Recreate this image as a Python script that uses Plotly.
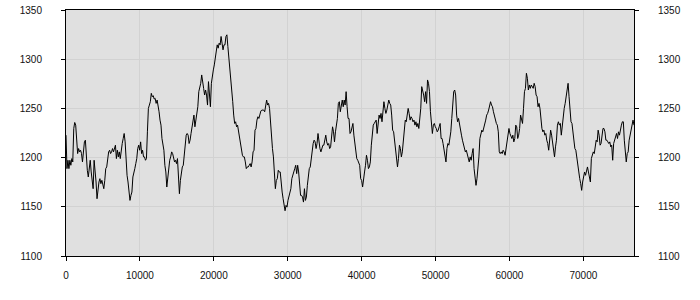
import plotly.graph_objects as go

# Series values (evenly spaced samples from x=0 to x_end)
x_end = 76850
values = [
    # 0 – ~12700
    1222.8, 1188.8, 1197.3, 1188.8, 1197.3, 1192.2, 1199, 1195.6, 1229.6, 1235.7,
    1233, 1210.9, 1204.1, 1209.2, 1205.8, 1207.5, 1204.1, 1195.6, 1209.2, 1216,
    1217.7, 1199, 1187.1, 1180.3, 1188.8, 1197.3, 1185.4, 1178.6, 1168.4, 1197.3,
    1188.8, 1175.2, 1158.2, 1168.4, 1175.2, 1178.6, 1173.5, 1176.9, 1173.5, 1168.4,
    1176.9, 1188.8, 1190.5, 1202.4, 1205.8, 1207.5, 1204.1, 1205.8, 1209.2, 1205.8,
    1210.9, 1212.6, 1199, 1207.5, 1200.7, 1205.8, 1199, 1209.2, 1214.3, 1219.4,
    1224.5, 1216, 1188.8, 1182, 1175.2, 1168.4, 1156.5, 1161.6, 1165, 1180.3,
    1183.7, 1188.8, 1193.9, 1199, 1209.2, 1212.6, 1207.5, 1216, 1204.1, 1207.5,
    1200.7, 1200.7, 1197.3, 1199, 1226.2, 1250, 1253.4, 1256.8, 1265.3, 1261.9,
    1262.9, 1259.5, 1260.2, 1255.1, 1258.5, 1253.4, 1246.6, 1238.1,
    # ~12700 – ~25400
    1233, 1219.4, 1210.9, 1207.5, 1192.2, 1185.4, 1170.1, 1178.6, 1192.2, 1197.3,
    1200.7, 1205.8, 1204.1, 1199, 1195.6, 1197.3, 1193.9, 1199, 1185.4, 1163.3,
    1176.9, 1185.4, 1190.5, 1192.2, 1202.4, 1212.6, 1222.8, 1224.5, 1222.8, 1214.3,
    1217.7, 1224.5, 1229.6, 1236.4, 1243.2, 1231.3, 1239.8, 1243.2, 1251.7, 1267,
    1270.4, 1275.5, 1284, 1278.9, 1270.4, 1263.6, 1268.7, 1263.6, 1253.4, 1277.2,
    1261.9, 1251.7, 1275.5, 1284, 1289.1, 1294.2, 1301, 1307.8, 1314.6, 1311.2,
    1316.3, 1314.6, 1323.1, 1316.3, 1309.5, 1314.6, 1314.6, 1323.1, 1324.8, 1312.9,
    1302.7, 1287.4, 1277.2, 1272.1, 1256.8, 1243.2, 1234.7, 1236.4, 1231.3, 1233,
    1226.2, 1217.7, 1214.3, 1204.1, 1202.4, 1200.7, 1200.7, 1195.6, 1188.8, 1190.5,
    1190.5, 1192.2, 1193.9, 1190.5, 1195.6, 1205.8, 1207.5, 1227.9,
    # ~25400 – ~38200
    1229.6, 1238.1, 1241.5, 1239.8, 1244.9, 1247.3, 1248.3, 1248.3, 1248.3, 1246.6,
    1253.4, 1258.5, 1253.4, 1255.1, 1250, 1233, 1219.4, 1209.2, 1200.7, 1185.4,
    1168.4, 1176.9, 1178.6, 1187.1, 1185.4, 1185.4, 1170.1, 1165, 1158.2, 1153.1,
    1146, 1151.4, 1149.7, 1156.5, 1159.9, 1163.3, 1168.4, 1178.6, 1183.7, 1185.4,
    1188.8, 1192.2, 1183.7, 1192.2, 1185.4, 1168.4, 1161.6, 1161.6, 1159.9, 1154.8,
    1168.4, 1156.5, 1159.9, 1171.8, 1180.3, 1188.8, 1190.5, 1200.7, 1207.5, 1214.3,
    1217.7, 1216, 1209.2, 1214.3, 1224.5, 1212.6, 1209.2, 1205.8, 1210.9, 1212.6,
    1212.6, 1217.7, 1222.8, 1216, 1212.6, 1214.3, 1209.2, 1210.9, 1222.8, 1231.3,
    1226.2, 1216, 1226.2, 1231.3, 1239.8, 1255.1, 1256.8, 1246.6, 1253.4, 1258.5,
    1251.7, 1258.5, 1253.4, 1267, 1251.7, 1239.8,
    # ~38200 – ~50900
    1239.8, 1224.5, 1226.2, 1233, 1234.7, 1222.8, 1212.6, 1205.8, 1199, 1197.3,
    1193.9, 1192.2, 1178.6, 1176.9, 1170.1, 1180.3, 1185.4, 1192.2, 1202.4, 1197.3,
    1188.8, 1190.5, 1195.6, 1212.6, 1226.2, 1233, 1234.7, 1236.4, 1238.1, 1224.5,
    1238.1, 1243.2, 1239.8, 1244.9, 1236.4, 1251.7, 1256.8, 1250, 1244.9, 1248.3,
    1255.1, 1258.5, 1255.1, 1253.4, 1243.2, 1227.9, 1226.2, 1216, 1205.8, 1199,
    1190.5, 1199, 1212.6, 1209.2, 1200.7, 1205.8, 1216, 1227.9, 1238.1, 1236.4,
    1243.2, 1250, 1244.9, 1238.1, 1241.5, 1239.8, 1236.4, 1238.1, 1233, 1236.4,
    1231.3, 1234.7, 1229.6, 1238.1, 1250, 1272.1, 1268.7, 1263.6, 1256.8, 1267,
    1255.1, 1278.9, 1275.5, 1267, 1246.6, 1234.7, 1224.5, 1233, 1234.7, 1231.3,
    1229.6, 1226.2, 1227.9, 1231.3, 1234.7, 1219.4,
    # ~50900 – ~63600
    1219.4, 1214.3, 1207.5, 1199, 1195.6, 1209.2, 1214.3, 1212.6, 1217.7, 1226.2,
    1239.8, 1256.8, 1267, 1268.7, 1263.6, 1243.2, 1236.4, 1239.8, 1233, 1224.5,
    1222.8, 1217.7, 1214.3, 1210.9, 1205.8, 1207.5, 1202.4, 1200.7, 1195.6, 1200.7,
    1197.3, 1204.1, 1209.2, 1188.8, 1180.3, 1171.8, 1178.6, 1188.8, 1200.7, 1219.4,
    1222.8, 1227.9, 1226.2, 1229.6, 1233, 1238.1, 1243.2, 1244.9, 1248.3, 1253.4,
    1256.8, 1253.4, 1251.7, 1246.6, 1241.5, 1238.1, 1234.7, 1233, 1226.2, 1205.8,
    1204.1, 1205.8, 1204.1, 1207.5, 1205.8, 1202.4, 1209.2, 1210.9, 1221.1, 1229.6,
    1224.5, 1221.1, 1219.4, 1222.8, 1216, 1219.4, 1233, 1231.3, 1219.4, 1222.8,
    1229.6, 1243.2, 1238.1, 1234.7, 1250, 1267, 1270.4, 1285.7, 1280.6, 1268.7,
    1273.8, 1270.4, 1273.8, 1272.1, 1270.4, 1275.5, 1272.1, 1263.6,
    # ~63600 – end
    1261.9, 1251.7, 1255.1, 1250, 1236.4, 1229.6, 1226.2, 1227.9, 1222.8, 1224.5,
    1217.7, 1214.3, 1207.5, 1217.7, 1227.9, 1222.8, 1216, 1209.2, 1200.7, 1210.9,
    1217.7, 1233, 1236.4, 1233, 1234.7, 1222.8, 1234.7, 1241.5, 1250, 1255.1,
    1261.9, 1267, 1275.5, 1261.9, 1246.6, 1236.4, 1234.7, 1226.2, 1219.4, 1209.2,
    1207.5, 1199, 1192.2, 1185.4, 1178.6, 1173.5, 1166.7, 1175.2, 1180.3, 1185.4,
    1182, 1188.8, 1190.5, 1185.4, 1180.3, 1175.2, 1199, 1204.1, 1205.8, 1204.1,
    1209.2, 1217.7, 1216, 1227.9, 1222.8, 1212.6, 1214.3, 1224.5, 1229.6, 1229.6,
    1226.2, 1217.7, 1217.7, 1216, 1214.3, 1216, 1210.9, 1212.6, 1197.3, 1214.3,
    1217.7, 1221.1, 1224.5, 1219.4, 1226.2, 1222.8, 1229.6, 1233, 1236.4, 1236.4,
    1217.7, 1209.2, 1195.6, 1204.1, 1205.8, 1217.7, 1222.8, 1227.9, 1233, 1238.1,
    1233,
]
n = len(values)
x_positions = [x_end * i / (n - 1) for i in range(n)]

x_ticks = [0, 10000, 20000, 30000, 40000, 50000, 60000, 70000]
y_ticks = [1100, 1150, 1200, 1250, 1300, 1350]
y_range = [1100, 1350]

fig = go.Figure()
fig.add_trace(go.Scatter(x=x_positions, y=values, mode="lines",
                         line=dict(color="black", width=1), showlegend=False,
                         hoverinfo="skip"))
# invisible companion trace so the right-hand axis is drawn
fig.add_trace(go.Scatter(x=[x_positions[0]], y=[values[0]], yaxis="y2", mode="markers",
                         marker=dict(opacity=0, size=1), showlegend=False,
                         hoverinfo="skip"))

font = dict(family="Liberation Sans, Arial, sans-serif", size=10, color="#111111")
grid_color = "#d2d2d2"

fig.update_layout(
    width=700, height=300,
    margin=dict(l=66, r=66, t=10, b=44, autoexpand=False),
    paper_bgcolor="white",
    plot_bgcolor="#e0e0e0",
    font=font,
    xaxis=dict(range=[0, x_end], tickvals=x_ticks, ticktext=[str(t) for t in x_ticks],
               showgrid=True, gridcolor=grid_color, gridwidth=1, zeroline=False,
               showline=True, linecolor="black", linewidth=1, mirror=True,
               ticks="outside", ticklen=4, tickcolor="black", tickfont=font,
               ticklabelstandoff=6, automargin=False),
    yaxis=dict(range=y_range, tickvals=y_ticks, ticktext=[str(t) for t in y_ticks],
               showgrid=True, gridcolor=grid_color, gridwidth=1, zeroline=False,
               showline=True, linecolor="black", linewidth=1, mirror=True,
               ticks="outside", ticklen=4, tickcolor="black", tickfont=font,
               ticklabelstandoff=17, automargin=False),
    yaxis2=dict(range=y_range, tickvals=y_ticks, ticktext=[str(t) for t in y_ticks],
                overlaying="y", side="right", showgrid=False, zeroline=False,
                showline=True, linecolor="black", linewidth=1,
                ticks="outside", ticklen=4, tickcolor="black", tickfont=font,
                ticklabelstandoff=17, automargin=False),
)

fig.write_html("out.html")
